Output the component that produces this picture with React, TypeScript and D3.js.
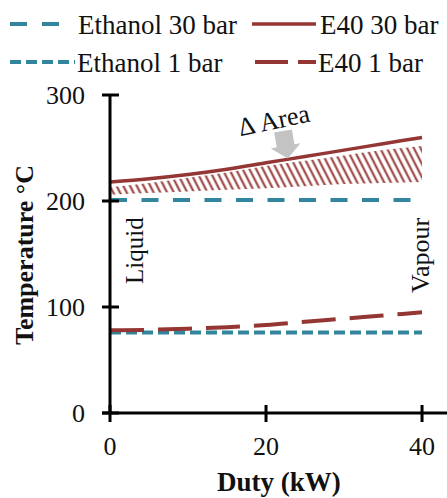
import * as d3 from "d3";
import React, { useEffect, useRef } from "react";

// values
const duty = [0, 5, 10, 15, 20, 25, 30, 35, 40];
const ethanol30 = [201, 201, 201, 201, 201, 201, 201, 201, 201];
const ethanol1 = [76, 76, 76, 76, 76, 76, 76, 76, 76];
const e40at30 = [218, 221, 225, 230, 236, 242, 248, 254, 260];
const e40at1 = [78, 78.5, 79.5, 81, 83, 86, 89, 92, 95];
const areaTop = [213, 217, 222, 227, 233, 238, 243, 248, 252];
const areaBottom = [206, 207.5, 209, 210.5, 212, 214, 216, 217, 218];

const xTicks = [0, 20, 40];
const yTicks = [0, 100, 200, 300];

const TEAL = "#31859c";
const RED = "#943634";
const FONT = "Liberation Serif, DejaVu Serif, Times New Roman, serif";

const App = () => {
  const ref = useRef<SVGSVGElement>(null);

  useEffect(() => {
    const svg = d3.select(ref.current);
    svg.selectAll("*").remove();

    const x = d3.scaleLinear().domain([0, 43.2]).range([110, 447]);
    const y = d3.scaleLinear().domain([0, 300]).range([413, 95]);

    // hatch pattern for the delta area
    const defs = svg.append("defs");
    const pat = defs
      .append("pattern")
      .attr("id", "hatch")
      .attr("patternUnits", "userSpaceOnUse")
      .attr("width", 6)
      .attr("height", 10)
      .attr("patternTransform", "rotate(-27)");
    pat
      .append("line")
      .attr("x1", 1.5)
      .attr("y1", 0)
      .attr("x2", 1.5)
      .attr("y2", 10)
      .attr("stroke", RED)
      .attr("stroke-width", 2);

    const area = d3
      .area<number>()
      .x((d, i) => x(duty[i]))
      .y0((d, i) => y(areaBottom[i]))
      .y1((d) => y(d))
      .curve(d3.curveMonotoneX);

    svg
      .append("path")
      .attr("d", area(areaTop))
      .attr("fill", "url(#hatch)");

    const line = d3
      .line<number>()
      .x((d, i) => x(duty[i]))
      .y((d) => y(d))
      .curve(d3.curveMonotoneX);

    const series = [
      { values: ethanol30, color: TEAL, dash: "17 14.5", width: 4 },
      { values: ethanol1, color: TEAL, dash: "11 5", width: 4 },
      { values: e40at1, color: RED, dash: "34 14", width: 4 },
      { values: e40at30, color: RED, dash: null, width: 3.5 },
    ];

    series.forEach((s) => {
      svg
        .append("path")
        .attr("d", line(s.values))
        .attr("fill", "none")
        .attr("stroke", s.color)
        .attr("stroke-width", s.width)
        .attr("stroke-dasharray", s.dash);
    });

    // axes
    svg
      .append("line")
      .attr("x1", x(0))
      .attr("x2", x(0))
      .attr("y1", y(300))
      .attr("y2", y(0))
      .attr("stroke", "#000")
      .attr("stroke-width", 3);
    svg
      .append("line")
      .attr("x1", x(0) - 8)
      .attr("x2", x(43.2))
      .attr("y1", y(0))
      .attr("y2", y(0))
      .attr("stroke", "#000")
      .attr("stroke-width", 3);

    svg
      .selectAll(".ytick")
      .data(yTicks)
      .enter()
      .append("line")
      .attr("x1", x(0) - 8)
      .attr("x2", x(0) + 9)
      .attr("y1", (d) => y(d))
      .attr("y2", (d) => y(d))
      .attr("stroke", "#000")
      .attr("stroke-width", 3);

    const txt = (sel: any, size: number, bold = false) =>
      sel
        .attr("font-family", FONT)
        .attr("font-size", size)
        .attr("font-weight", bold ? "bold" : "normal")
        .attr("fill", "#111");

    svg
      .selectAll(".ylab")
      .data(yTicks)
      .enter()
      .append("text")
      .attr("x", 85)
      .attr("y", (d) => y(d) + 9)
      .attr("text-anchor", "end")
      .call(txt, 26)
      .text((d) => d);

    svg
      .selectAll(".xtick")
      .data(xTicks)
      .enter()
      .append("line")
      .attr("x1", (d) => x(d))
      .attr("x2", (d) => x(d))
      .attr("y1", y(0) - 8)
      .attr("y2", y(0) + 9)
      .attr("stroke", "#000")
      .attr("stroke-width", 3);

    svg
      .selectAll(".xlab")
      .data(xTicks)
      .enter()
      .append("text")
      .attr("x", (d) => x(d))
      .attr("y", 455)
      .attr("text-anchor", "middle")
      .call(txt, 26)
      .text((d) => d);

    svg
      .append("text")
      .attr("x", 279)
      .attr("y", 491)
      .attr("text-anchor", "middle")
      .call(txt, 27, true)
      .text("Duty (kW)");

    svg
      .append("text")
      .attr("transform", "translate(33,255) rotate(-90)")
      .attr("text-anchor", "middle")
      .call(txt, 26, true)
      .text("Temperature °C");

    // phase labels
    svg
      .append("text")
      .attr("transform", "translate(143,284) rotate(-90)")
      .call(txt, 25)
      .text("Liquid");
    svg
      .append("text")
      .attr("transform", "translate(429,293) rotate(-90)")
      .call(txt, 26)
      .text("Vapour");

    // delta area annotation
    svg
      .append("text")
      .attr("transform", `translate(${x(16.7)},${y(261)}) rotate(-12)`)
      .call(txt, 26)
      .text("\u0394 Area");

    const tipX = x(22.8);
    const tipY = y(240);
    svg
      .append("path")
      .attr("transform", `translate(${tipX},${tipY}) rotate(-10)`)
      .attr("d", "M0,0 L-15,-13 L-9,-13 L-9,-28 L9,-28 L9,-13 L15,-13 Z")
      .attr("fill", "#c3c3c3");

    // legend
    const legend = [
      { label: "Ethanol 30 bar", color: TEAL, dash: "17 15", width: 4, x1: 10, x2: 60, tx: 78, row: 0 },
      { label: "E40 30 bar", color: RED, dash: null, width: 3.5, x1: 252, x2: 316, tx: 320, row: 0 },
      { label: "Ethanol 1 bar", color: TEAL, dash: "11 5", width: 4, x1: 10, x2: 75, tx: 77, row: 1 },
      { label: "E40 1 bar", color: RED, dash: "33 10", width: 4, x1: 255, x2: 316, tx: 318, row: 1 },
    ];
    const rowY = [24, 62];

    const items = svg
      .selectAll(".legend-item")
      .data(legend)
      .enter()
      .append("g")
      .attr("class", "legend-item");

    items
      .append("line")
      .attr("x1", (d) => d.x1)
      .attr("x2", (d) => d.x2)
      .attr("y1", (d) => rowY[d.row])
      .attr("y2", (d) => rowY[d.row])
      .attr("stroke", (d) => d.color)
      .attr("stroke-width", (d) => d.width)
      .attr("stroke-dasharray", (d) => d.dash);

    items
      .append("text")
      .attr("x", (d) => d.tx)
      .attr("y", (d) => rowY[d.row] + 10)
      .call(txt, 27)
      .text((d) => d.label);
  }, []);

  return (
    <svg
      ref={ref}
      width={447}
      height={498}
      style={{ position: "absolute", left: 0, top: 0, background: "#fff" }}
    />
  );
};

export default App;
